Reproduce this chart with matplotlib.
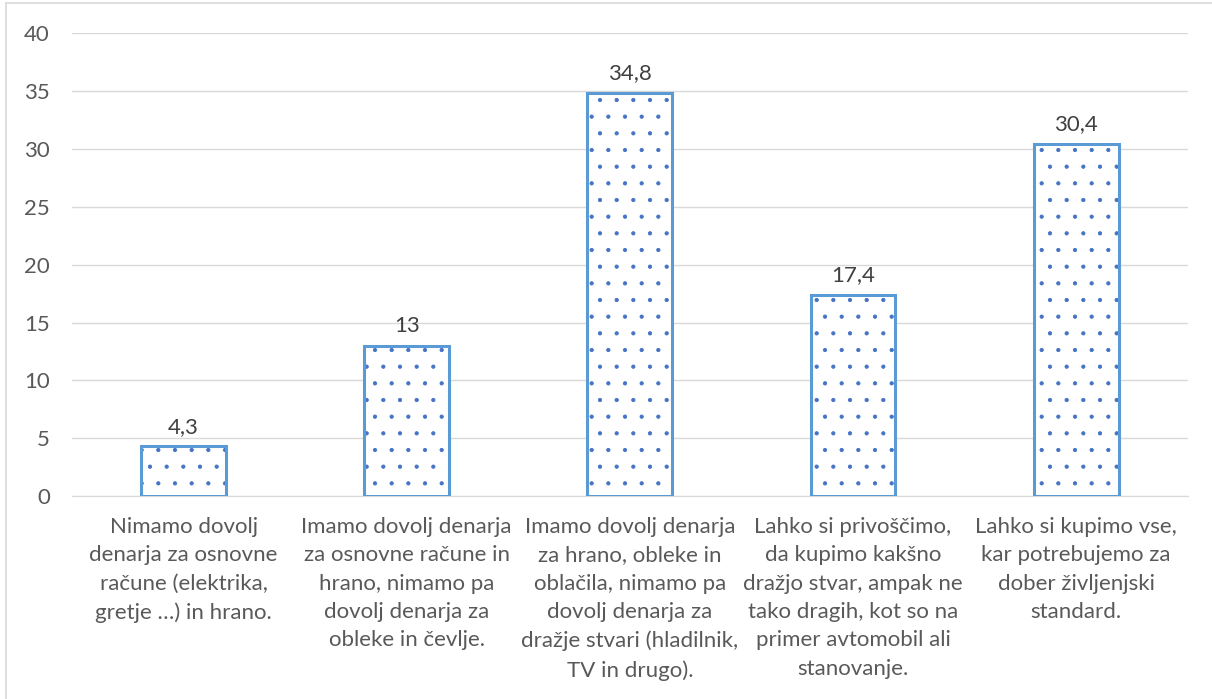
import matplotlib.pyplot as plt
import numpy as np

categories = [
    "Nimamo dovolj\ndenarja za osnovne\nračune (elektrika,\ngretje …) in hrano.",
    "Imamo dovolj denarja\nza osnovne račune in\nhrano, nimamo pa\ndovolj denarja za\nobleke in čevlje.",
    "Imamo dovolj denarja\nza hrano, obleke in\noblačila, nimamo pa\ndovolj denarja za\ndražje stvari (hladilnik,\nTV in drugo).",
    "Lahko si privoščimo,\nda kupimo kakšno\ndražjo stvar, ampak ne\ntako dragih, kot so na\nprimer avtomobil ali\nstanovanje.",
    "Lahko si kupimo vse,\nkar potrebujemo za\ndober življenjski\nstandard.",
]
values = [4.3, 13, 34.8, 17.4, 30.4]
value_labels = ["4,3", "13", "34,8", "17,4", "30,4"]
y_ticks = [0, 5, 10, 15, 20, 25, 30, 35, 40]

plt.rcParams['font.family'] = ['Lato', 'DejaVu Sans']
plt.rcParams['hatch.linewidth'] = 0.6
text_color = '#595959'
fs = 16

fig = plt.figure(figsize=(12.12, 6.99), dpi=100)
ax = fig.add_axes([0.0594, 0.290, 0.9206, 0.663])

x = np.arange(len(values))
# dotted fill first, then outline on top
ax.bar(x, values, width=0.38, color='white', edgecolor='#4472C4', hatch='.', linewidth=0, zorder=2)
ax.bar(x, values, width=0.38, color='none', edgecolor='#5B9BD5', linewidth=2.2, zorder=3)

for xi, v, lab in zip(x, values, value_labels):
    ax.annotate(lab, (xi, v), xytext=(0, 7), textcoords='offset points',
                ha='center', va='bottom', fontsize=fs, color='#404040')

ax.set_xlim(-0.5, len(values) - 0.5)
ax.set_ylim(0, 40)
ax.set_yticks(y_ticks)
ax.set_xticks(x)
ax.set_xticklabels(categories, fontsize=fs, color=text_color, linespacing=1.52, va='top')
ax.tick_params(axis='y', length=0, pad=16, labelsize=fs, labelcolor=text_color)
ax.tick_params(axis='x', length=0, pad=15)
ax.grid(axis='y', color='#D9D9D9', linewidth=1)
ax.set_axisbelow(True)
for s in ['top', 'right', 'left']:
    ax.spines[s].set_visible(False)
ax.spines['bottom'].set_color('#D9D9D9')

# chart frame (only left and top edges visible in the picture)
fig.add_artist(plt.Line2D([0.005, 0.005], [0, 0.995], color='#D9D9D9', linewidth=1.2))
fig.add_artist(plt.Line2D([0.005, 1.0], [0.995, 0.995], color='#D9D9D9', linewidth=1.2))

fig.savefig('out.png', dpi=100)
